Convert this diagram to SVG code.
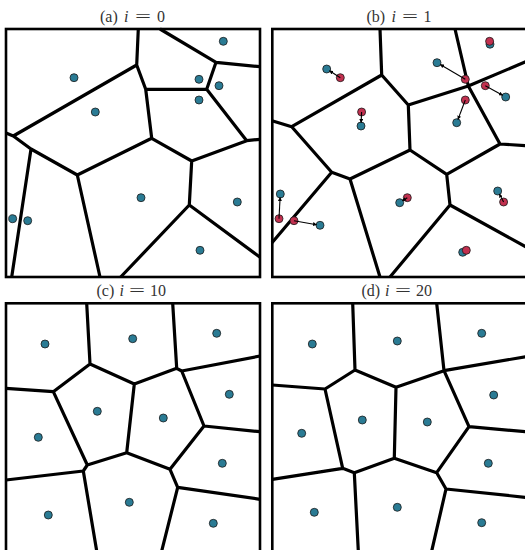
<svg xmlns="http://www.w3.org/2000/svg" width="525" height="550" viewBox="0 0 525 550">
<defs>
<style>
.box{fill:none;stroke:#000;stroke-width:2.6}
.e{fill:none;stroke:#000;stroke-width:3.2;stroke-linejoin:round;stroke-linecap:butt}
.b{fill:#2a7b94;stroke:#1a1a1a;stroke-width:0.8}
.r{fill:#c2304f;stroke:#1a1a1a;stroke-width:0.8}
.a{stroke:#000;stroke-width:1.1;fill:none;marker-end:url(#ah)}
.t{font-family:"Liberation Serif","DejaVu Serif",serif;font-size:16px;fill:#333}
.i{font-style:italic}
</style>
<marker id="ah" viewBox="0 0 10 10" refX="9" refY="5" markerWidth="4" markerHeight="4" orient="auto" markerUnits="userSpaceOnUse">
<path d="M0,0L10,5L0,10z" fill="#000"/>
</marker>
</defs>
<rect width="525" height="550" fill="#fff"/>

<g id="panel-a">
<text class="t" x="100" y="22">(a)<tspan class="i" x="124">i</tspan><tspan x="135" textLength="16" lengthAdjust="spacingAndGlyphs">=</tspan><tspan x="157">0</tspan></text>
<g class="edges">
<path class="e" d="M138.3,29L136.7,65L13.3,136L6,133 M136.7,65L145.7,89.3L206.7,89.3L216,62.3L160,29 M216,62.3L260,66.7 M206.7,89.3L246.7,140.7L260,139.3 M246.7,140.7L191.7,161L151.7,138.3L145.7,89.3 M151.7,138.3L77.3,175L31,149L13.3,136 M31,149L11.7,277 M77.3,175L100,277 M191.7,161L189.3,205L120.7,277 M189.3,205L260,257.3"/>
</g>
<rect class="box" x="6" y="29" width="254" height="248"/>
<g class="points">
<circle class="b" cx="223.3" cy="41.3" r="4"/>
<circle class="b" cx="74" cy="77.7" r="4"/>
<circle class="b" cx="199" cy="79.3" r="4"/>
<circle class="b" cx="219" cy="85.7" r="4"/>
<circle class="b" cx="199" cy="100" r="4"/>
<circle class="b" cx="95.3" cy="112" r="4"/>
<circle class="b" cx="141" cy="197.7" r="4"/>
<circle class="b" cx="237.3" cy="202" r="4"/>
<circle class="b" cx="12.7" cy="218.7" r="4"/>
<circle class="b" cx="27.7" cy="220.7" r="4"/>
<circle class="b" cx="200" cy="250.3" r="4"/>
</g>
</g>

<g id="panel-b">
<text class="t" x="366.5" y="22">(b)<tspan class="i" x="391.5">i</tspan><tspan x="402" textLength="16" lengthAdjust="spacingAndGlyphs">=</tspan><tspan x="423.5">1</tspan></text>
<g class="edges">
<path class="e" d="M380,29L381.7,75L291.7,126.7L272,120.7 M381.7,75L408.3,105L468.3,86L455,29 M468.3,86L527,61.2 M468.3,86L500,144L527,145.7 M408.3,105L410,150L446.7,174.3L500,144 M410,150L350,179L331.7,172.3L291.7,126.7 M331.7,172.3L272,242.7 M350,179L380,277 M446.7,174.3L450,205L390,277 M450,205L527,247.5"/>
</g>
<rect class="box" x="272.3" y="29" width="254" height="248"/>
<g class="new">
<circle class="b" cx="490" cy="44.2" r="4"/>
<circle class="b" cx="326.7" cy="69" r="4"/>
<circle class="b" cx="437" cy="62.7" r="4"/>
<circle class="b" cx="505.7" cy="97" r="4"/>
<circle class="b" cx="456.7" cy="122.7" r="4"/>
<circle class="b" cx="361" cy="126" r="4"/>
<circle class="b" cx="399.7" cy="202.7" r="4"/>
<circle class="b" cx="497.7" cy="191" r="4"/>
<circle class="b" cx="280.3" cy="194" r="4"/>
<circle class="b" cx="320" cy="225.3" r="4"/>
<circle class="b" cx="462.7" cy="252.3" r="4"/>
</g>
<g class="old">
<circle class="r" cx="489.6" cy="41.3" r="4"/>
<circle class="r" cx="340.3" cy="77.7" r="4"/>
<circle class="r" cx="465.3" cy="79.3" r="4"/>
<circle class="r" cx="485.3" cy="85.7" r="4"/>
<circle class="r" cx="465.3" cy="100" r="4"/>
<circle class="r" cx="361.6" cy="112" r="4"/>
<circle class="r" cx="407.3" cy="197.7" r="4"/>
<circle class="r" cx="503.6" cy="202" r="4"/>
<circle class="r" cx="279" cy="218.7" r="4"/>
<circle class="r" cx="294" cy="220.7" r="4"/>
<circle class="r" cx="466.3" cy="250.3" r="4"/>
</g>
<g id="connectors">
<line class="a" x1="340.3" y1="77.7" x2="329.5" y2="70.8"/>
<line class="a" x1="465.3" y1="79.3" x2="440.2" y2="64.5"/>
<line class="a" x1="485.3" y1="85.7" x2="502.6" y2="95.3"/>
<line class="a" x1="465.3" y1="100" x2="458" y2="119.4"/>
<line class="a" x1="361.6" y1="112" x2="361.1" y2="122.6"/>
<line class="a" x1="407.3" y1="197.7" x2="402.5" y2="200.8"/>
<line class="a" x1="503.6" y1="202" x2="499.4" y2="194"/>
<line class="a" x1="279" y1="218.7" x2="280.1" y2="197.4"/>
<line class="a" x1="294" y1="220.7" x2="316.6" y2="224.7"/>
</g>
</g>

<g id="panel-c">
<text class="t" x="96.5" y="296">(c)<tspan class="i" x="119.5">i</tspan><tspan x="129" textLength="16" lengthAdjust="spacingAndGlyphs">=</tspan><tspan x="150">10</tspan></text>
<g class="edges">
<path class="e" d="M86.7,303.3L90,364L53.3,391.7L6,388.3 M90,364L134.3,384L176.7,368.3L172.7,303.3 M176.7,368.3L181.7,371L260,356 M181.7,371L204,426L260,431.7 M204,426L170,469.3L126.7,452.7L134.3,384 M126.7,452.7L87.3,465L53.3,391.7 M87.3,465L83.3,471L6,480 M83.3,471L96.7,551 M170,469.3L177.7,487.3L260,499.3 M177.7,487.3L161.7,551"/>
</g>
<rect class="box" x="6" y="303.3" width="254" height="248"/>
<g class="points">
<circle class="b" cx="45" cy="344" r="4"/>
<circle class="b" cx="132.7" cy="338.7" r="4"/>
<circle class="b" cx="216.7" cy="333.3" r="4"/>
<circle class="b" cx="229.3" cy="394.3" r="4"/>
<circle class="b" cx="97.3" cy="411.3" r="4"/>
<circle class="b" cx="163.3" cy="418" r="4"/>
<circle class="b" cx="38.3" cy="437.3" r="4"/>
<circle class="b" cx="222.3" cy="463.3" r="4"/>
<circle class="b" cx="129.3" cy="502.3" r="4"/>
<circle class="b" cx="48.3" cy="515" r="4"/>
<circle class="b" cx="213.3" cy="523.3" r="4"/>
</g>
</g>

<g id="panel-d">
<text class="t" x="361.5" y="296">(d)<tspan class="i" x="385">i</tspan><tspan x="395" textLength="16" lengthAdjust="spacingAndGlyphs">=</tspan><tspan x="416">20</tspan></text>
<g class="edges">
<path class="e" d="M352.7,303.3L355,370L325,389L272.3,385 M355,370L396,387.3L444,370.7L436.7,303.3 M444,370.7L527,356.5 M444,370.7L469,426.7L527,431.8 M469,426.7L436.7,472.7L394.3,458.3L396,387.3 M394.3,458.3L354.3,472.7L342.7,468.3L325,389 M342.7,468.3L272.3,479.3 M354.3,472.7L358.3,551 M436.7,472.7L446,489L527,497.5 M446,489L431.7,551"/>
</g>
<rect class="box" x="272.3" y="303.3" width="254" height="248"/>
<g class="points">
<circle class="b" cx="312.3" cy="344" r="4"/>
<circle class="b" cx="397.3" cy="341" r="4"/>
<circle class="b" cx="481.7" cy="333.3" r="4"/>
<circle class="b" cx="493.7" cy="395" r="4"/>
<circle class="b" cx="362.3" cy="420" r="4"/>
<circle class="b" cx="427.3" cy="422" r="4"/>
<circle class="b" cx="301.7" cy="433.3" r="4"/>
<circle class="b" cx="488.3" cy="463.3" r="4"/>
<circle class="b" cx="397.3" cy="507.3" r="4"/>
<circle class="b" cx="314.3" cy="512.3" r="4"/>
<circle class="b" cx="481.7" cy="522.7" r="4"/>
</g>
</g>
</svg>
